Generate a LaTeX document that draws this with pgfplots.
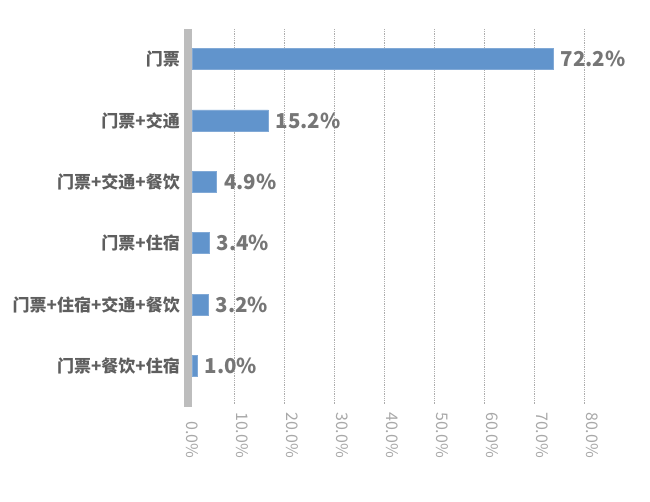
\documentclass[border=0pt]{standalone}
\usepackage{pgfplots}
\pgfplotsset{compat=1.18}
\usepackage{fontspec}
\setmainfont{Noto Sans CJK SC}
\definecolor{barblue}{HTML}{6194CC}
\definecolor{catgray}{HTML}{5E5E5E}
\definecolor{valgray}{HTML}{767676}
\definecolor{tickgray}{HTML}{A8A8A8}
\definecolor{gridgray}{HTML}{ADADAD}
\definecolor{axgray}{HTML}{BDBDBD}
\begin{document}
\begin{tikzpicture}[x=1pt,y=1pt]
\path[use as bounding box] (-184.3,-97) rectangle (465.7,405);
\begin{axis}[
  scale only axis,
  width=400pt, height=376pt,
  at={(0,0)}, anchor=south west,
  xbar, bar width=21pt,
  xmin=0, xmax=80,
  ymin=-0.49, ymax=5.635,
  y dir=reverse,
  ytick={0,1,2,3,4,5},
  yticklabels={门票,门票+交通,门票+交通+餐饮,门票+住宿,门票+住宿+交通+餐饮,门票+餐饮+住宿},
  xtick={0,10,...,80},
  xticklabel={\ifdim\tick pt<1pt\hspace*{9pt}\fi\pgfmathprintnumber[fixed,fixed zerofill,precision=1,assume math mode=true]{\tick}\%},
  xticklabel style={font=\fontsize{16}{18}\selectfont, text=tickgray, yshift=-5pt, rotate=-90, anchor=south west, inner sep=2pt},
  yticklabel style={font=\fontsize{17}{19}\selectfont\bfseries, text=catgray, xshift=-1pt},
  axis line style={draw=none},
  major tick length=0pt,
  xmajorgrids,
  grid style={gridgray, line width=0.7pt, dash pattern=on 0.7pt off 1.1pt},
  nodes near coords={\pgfmathprintnumber[fixed,fixed zerofill,precision=1,assume math mode=true]{\pgfplotspointmeta}\%},
  nodes near coords style={font=\fontsize{20.5}{22}\selectfont\bfseries, text=valgray, anchor=west, inner sep=0pt, xshift=7pt},
  clip=false,
]
\draw[axgray, line width=8pt, xshift=4pt] (axis cs:0,-0.49) -- (axis cs:0,5.67);
\addplot[fill=barblue, draw=barblue!80!white, line width=0.6pt, xshift=8pt] coordinates {
  (72.2,0) (15.2,1) (4.9,2) (3.4,3) (3.2,4) (1.0,5)
};
\end{axis}
\end{tikzpicture}
\end{document}
